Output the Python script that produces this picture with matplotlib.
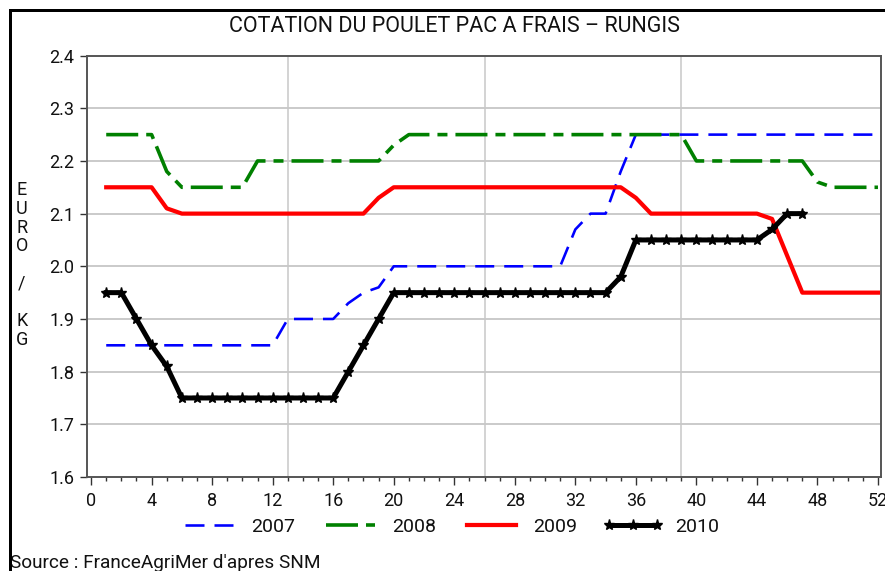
import matplotlib
matplotlib.use('Agg')
import matplotlib.pyplot as plt
from matplotlib import font_manager
from matplotlib.patches import Rectangle
from matplotlib.ticker import MultipleLocator, FixedLocator

# ---------------- data ----------------
weeks_2007 = list(range(1, 53))
vals_2007 = [1.85, 1.85, 1.85, 1.85, 1.85, 1.85, 1.85, 1.85, 1.85, 1.85, 1.85, 1.85,
             1.90, 1.90, 1.90, 1.90, 1.93, 1.95, 1.96,
             2.00, 2.00, 2.00, 2.00, 2.00, 2.00, 2.00, 2.00, 2.00, 2.00, 2.00, 2.00,
             2.07, 2.10, 2.10, 2.18,
             2.25, 2.25, 2.25, 2.25, 2.25, 2.25, 2.25, 2.25, 2.25, 2.25, 2.25, 2.25,
             2.25, 2.25, 2.25, 2.25, 2.25]

weeks_2008 = list(range(1, 53))
vals_2008 = [2.25, 2.25, 2.25, 2.25, 2.18,
             2.15, 2.15, 2.15, 2.15, 2.15,
             2.20, 2.20, 2.20, 2.20, 2.20, 2.20, 2.20, 2.20, 2.20, 2.23,
             2.25, 2.25, 2.25, 2.25, 2.25, 2.25, 2.25, 2.25, 2.25, 2.25,
             2.25, 2.25, 2.25, 2.25, 2.25, 2.25, 2.25, 2.25, 2.25,
             2.20, 2.20, 2.20, 2.20, 2.20, 2.20, 2.20, 2.20, 2.16,
             2.15, 2.15, 2.15, 2.15]

weeks_2009 = list(range(1, 53))
vals_2009 = [2.15, 2.15, 2.15, 2.15, 2.11,
             2.10, 2.10, 2.10, 2.10, 2.10, 2.10, 2.10, 2.10, 2.10, 2.10, 2.10, 2.10, 2.10,
             2.13,
             2.15, 2.15, 2.15, 2.15, 2.15, 2.15, 2.15, 2.15, 2.15, 2.15, 2.15, 2.15,
             2.15, 2.15, 2.15, 2.15,
             2.13,
             2.10, 2.10, 2.10, 2.10, 2.10, 2.10, 2.10, 2.10,
             2.09, 2.02,
             1.95, 1.95, 1.95, 1.95, 1.95, 1.95]

weeks_2010 = list(range(1, 48))
vals_2010 = [1.95, 1.95, 1.90, 1.85, 1.81,
             1.75, 1.75, 1.75, 1.75, 1.75, 1.75, 1.75, 1.75, 1.75, 1.75, 1.75,
             1.80, 1.85, 1.90,
             1.95, 1.95, 1.95, 1.95, 1.95, 1.95, 1.95, 1.95, 1.95, 1.95, 1.95, 1.95,
             1.95, 1.95, 1.95,
             1.98,
             2.05, 2.05, 2.05, 2.05, 2.05, 2.05, 2.05, 2.05, 2.05,
             2.07, 2.10, 2.10]

series_labels = ['2007', '2008', '2009', '2010']
x_tick_values = list(range(0, 53, 4))
y_tick_values = [1.6, 1.7, 1.8, 1.9, 2.0, 2.1, 2.2, 2.3, 2.4]
x_grid_values = [13, 26, 39]
title_text = 'COTATION DU POULET PAC A FRAIS \u2013 RUNGIS'
ylabel_text = 'E\nU\nR\nO\n \n/\n \nK\nG'
source_text = "Source : FranceAgriMer d'apres SNM"

# ---------------- fonts ----------------
names = {f.name for f in font_manager.fontManager.ttflist}
FONT = ['Roboto', 'DejaVu Sans'] if 'Roboto' in names else ['DejaVu Sans']
plt.rcParams['font.family'] = FONT
plt.rcParams['font.weight'] = 'normal'
plt.rcParams['lines.scale_dashes'] = False

W, H, DPI = 885, 571, 100
fig = plt.figure(figsize=(W / DPI, H / DPI), dpi=DPI)

def px(x):
    return x / W

def py(y):
    return 1 - y / H

ax_l, ax_r, ax_t, ax_b = 87, 881, 55.6, 477
ax = fig.add_axes([px(ax_l), py(ax_b), px(ax_r - ax_l), (ax_b - ax_t) / H])

P = 0.72  # points per pixel
ax.plot(weeks_2007, vals_2007, color='#0000ff', lw=2.6 * P,
        dashes=(19 * P, 10 * P), label=series_labels[0], zorder=3)
ax.plot(weeks_2008, vals_2008, color='#008000', lw=3.6 * P,
        dashes=(32 * P, 8 * P, 10 * P, 8 * P), label=series_labels[1], zorder=3)
ax.plot(weeks_2009, vals_2009, color='#ff0000', lw=4.2 * P,
        label=series_labels[2], zorder=3)
ax.plot(weeks_2010, vals_2010, color='black', lw=5 * P, marker='*',
        markersize=8, label=series_labels[3], zorder=4)

ax.set_xlim(-0.27, 52.2)
ax.set_ylim(1.6, 2.4)
ax.xaxis.set_major_locator(FixedLocator(x_tick_values))
ax.xaxis.set_minor_locator(MultipleLocator(1))
ax.yaxis.set_major_locator(FixedLocator(y_tick_values))
ax.set_xticklabels([str(v) for v in x_tick_values])
ax.set_yticklabels(['%.1f' % v for v in y_tick_values])

for v in y_tick_values[1:-1]:
    ax.axhline(v, color='#bcbcbc', lw=1.1, zorder=1)
for v in x_grid_values:
    ax.axvline(v, color='#c8c8c8', lw=1.1, zorder=1)

for s in ax.spines.values():
    s.set_color('#555555')
    s.set_linewidth(1.4)

ax.tick_params(axis='both', which='major', direction='out', length=5, width=1,
               color='#333333', labelsize=13, pad=4, labelcolor='#111111')
ax.tick_params(axis='x', which='minor', direction='out', length=3, width=1,
               color='#333333')
ax.tick_params(axis='x', which='major', length=6, pad=5)

fig.text(px(454.5), py(26.5), title_text, ha='center', va='center', fontsize=15.5,
         color='#111111')
fig.text(px(22), py(265), ylabel_text, ha='center', va='center', fontsize=13,
         linespacing=1.05, color='#111111')
fig.text(px(10), py(563), source_text, ha='left', va='center', fontsize=13.7,
         color='#111111')

leg = fig.legend(loc='center', bbox_to_anchor=(px(449), py(527)), ncol=4,
                 frameon=False, fontsize=14, handlelength=3.1, handletextpad=0.6,
                 columnspacing=1.3, numpoints=3)
for t in leg.get_texts():
    t.set_color('#111111')

fig.patches.append(Rectangle((px(9.5), -0.2), 1.5, py(9.5) + 0.2,
                             transform=fig.transFigure, fill=False,
                             ec='black', lw=3 * P, zorder=10))

fig.savefig('out.png', dpi=DPI)
